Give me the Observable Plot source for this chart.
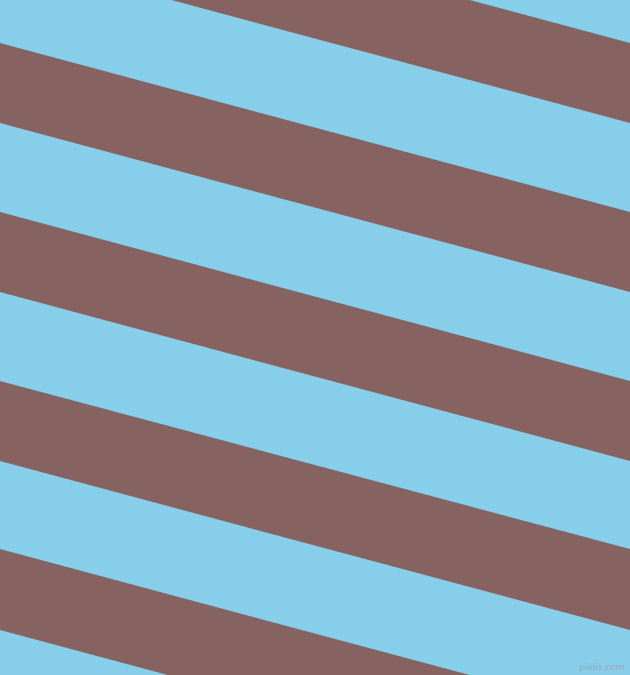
<!DOCTYPE html>
<html>
<head>
<meta charset="utf-8">
<script src="https://cdn.jsdelivr.net/npm/d3@7"></script>
<script src="https://cdn.jsdelivr.net/npm/@observablehq/plot@0.6"></script>
<style>
  html, body { margin: 0; padding: 0; background: #87CEEB; overflow: hidden; }
  #chart svg { display: block; }
</style>
</head>
<body>
<div id="chart"></div>
<script>
// Brown stripe edges: y position at the left edge (x=0) and right edge (x=630)
const stripeIds = [0, 1, 2, 3, 4];
const topLeft = [-126, 43, 212, 381, 549];
const bottomLeft = [-46, 123, 292, 461, 630];
const topRight = [43, 212, 381, 549, 718];
const bottomRight = [123, 292, 461, 630, 799];
const xEdges = [0, 630];

const blue = "#87CEEB";
const brown = "#866361";

const rows = [];
stripeIds.forEach((id, i) => {
  rows.push({id, x: xEdges[0], y1: topLeft[i], y2: bottomLeft[i]});
  rows.push({id, x: xEdges[1], y1: topRight[i], y2: bottomRight[i]});
});

const chart = Plot.plot({
  width: 630,
  height: 675,
  margin: 0,
  style: {background: blue},
  x: {domain: [0, 630], axis: null},
  y: {domain: [0, 675], range: [0, 675], axis: null},
  marks: [
    Plot.areaY(rows, {x: "x", y1: "y1", y2: "y2", z: "id", fill: brown, clip: true}),
    Plot.text(["pixlis.com"], {frameAnchor: "bottom-right", dx: -6, dy: -6, fill: "#9aa7b8", fontSize: 9, fontFamily: "DejaVu Sans"})
  ]
});
document.getElementById("chart").appendChild(chart);
</script>
</body>
</html>
